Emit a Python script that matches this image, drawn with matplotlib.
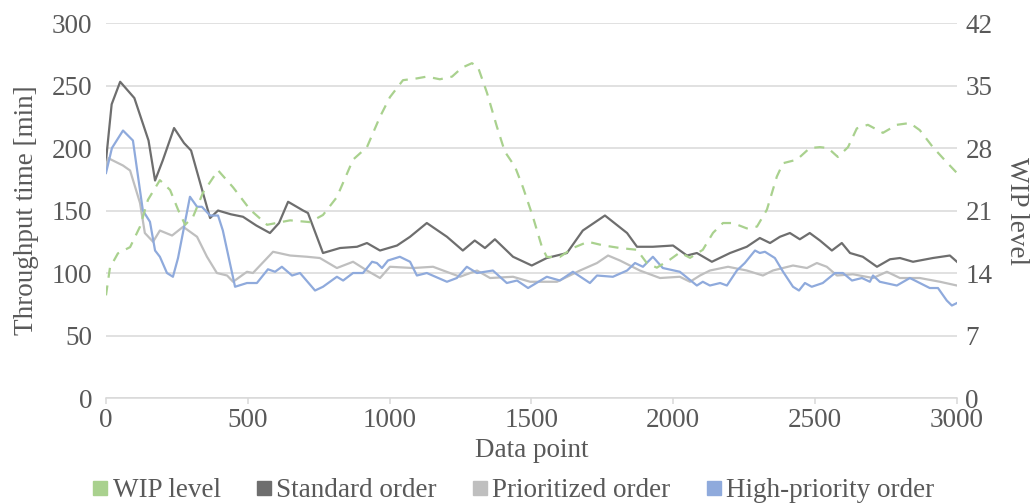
import matplotlib
matplotlib.use("Agg")
import matplotlib.pyplot as plt
from matplotlib.lines import Line2D

plt.rcParams['font.family'] = ['Liberation Serif', 'DejaVu Serif']

# Standard order throughput time [min]
std_x = [0, 20, 50, 100, 150, 173, 200, 240, 275, 300, 342, 367, 395, 440, 483, 530, 578,
         610, 642, 695, 712, 765, 825, 885, 920, 966, 1026, 1072, 1131, 1202, 1258, 1300,
         1336, 1371, 1435, 1501, 1554, 1625, 1681, 1759, 1837, 1872, 1928, 1999, 2048,
         2083, 2136, 2200, 2259, 2305, 2341, 2376, 2411, 2446, 2481, 2517, 2559, 2594,
         2623, 2668, 2718, 2764, 2799, 2845, 2915, 2975, 3000]
std_y = [190, 235, 253, 240, 206, 174, 190, 216, 204, 198, 164, 144, 150, 147, 145, 138, 132,
         140, 157, 150, 148, 116, 120, 121, 124, 118, 122, 129, 140, 129, 118, 126,
         120, 127, 113, 106, 112, 116, 134, 146, 132, 121, 121, 122, 114,
         116, 109, 116, 121, 128, 124, 129, 132, 127, 132, 126, 118, 124,
         116, 113, 105, 111, 112, 109, 112, 114, 109]

# Prioritized order throughput time [min]
pri_x = [0, 7, 60, 85, 120, 137, 166, 190, 233, 272, 321, 356, 391, 427, 448, 497, 518, 589,
         649, 709, 754, 814, 871, 920, 966, 1001, 1082, 1153, 1248, 1308, 1354, 1435, 1495,
         1590, 1671, 1731, 1770, 1812, 1882, 1953, 2023, 2059, 2094, 2129, 2193, 2259, 2316,
         2351, 2422, 2471, 2506, 2541, 2577, 2633, 2704, 2753, 2799, 2869, 2940, 3000]
pri_y = [184, 192, 186, 182, 156, 132, 125, 134, 130, 137, 129, 113, 100, 98, 93, 101, 100, 117,
         114, 113, 112, 104, 109, 102, 96, 105, 104, 105, 97, 102, 96, 97, 93,
         93, 102, 108, 114, 110, 102, 96, 97, 93, 98, 102, 105, 102, 98,
         102, 106, 104, 108, 105, 98, 99, 96, 101, 96, 96, 93, 90]

# High-priority order throughput time [min]
hp_x = [0, 21, 60, 95, 130, 155, 173, 190, 215, 236, 254, 296, 321, 338, 367, 395, 412, 455,
        497, 532, 571, 596, 620, 656, 684, 737, 765, 814, 836, 871, 906, 938, 955, 973, 994,
        1036, 1072, 1096, 1131, 1202, 1237, 1272, 1308, 1364, 1413, 1449, 1488, 1554, 1600,
        1646, 1706, 1731, 1787, 1837, 1865, 1893, 1928, 1963, 2023, 2083, 2104, 2129, 2165,
        2189, 2224, 2252, 2288, 2305, 2323, 2358, 2387, 2422, 2443, 2464, 2488, 2527, 2570,
        2598, 2630, 2665, 2693, 2704, 2728, 2788, 2834, 2869, 2904, 2933, 2964, 2982, 3000]
hp_y = [180, 200, 214, 206, 150, 141, 118, 113, 100, 97, 112, 161, 153, 153, 146, 146, 134, 89,
        92, 92, 103, 101, 105, 98, 100, 86, 89, 97, 94, 100, 100, 109, 108, 104, 110,
        113, 109, 98, 100, 93, 96, 105, 100, 102, 92, 94, 88, 97, 94,
        101, 92, 98, 97, 102, 108, 105, 113, 104, 101, 90, 93, 90, 92,
        90, 102, 108, 118, 116, 117, 112, 101, 89, 86, 92, 89, 92, 100,
        100, 94, 96, 93, 98, 93, 90, 96, 92, 88, 88, 78, 74, 76]

# WIP level (secondary axis)
wip_x = [0, 14, 42, 85, 120, 148, 190, 226, 254, 279, 307, 342, 395, 448, 508, 568, 649, 719,
         765, 814, 871, 920, 966, 1001, 1047, 1096, 1131, 1177, 1220, 1255, 1290, 1311, 1343,
         1378, 1406, 1442, 1470, 1505, 1537, 1554, 1600, 1646, 1699, 1752, 1812, 1872, 1907,
         1942, 1988, 2023, 2059, 2104, 2140, 2175, 2210, 2259, 2295, 2330, 2365, 2387, 2436,
         2481, 2517, 2545, 2580, 2616, 2647, 2686, 2739, 2788, 2834, 2869, 2915, 2964, 3000]
wip_y = [11.5, 14.6, 16.2, 16.9, 19.2, 22.2, 24.4, 23.3, 21.1, 19.4, 20.3, 23.0, 25.5, 23.6,
         21.1, 19.4, 19.9, 19.7, 20.5, 22.5, 26.7, 28.1, 31.5, 33.7, 35.6, 35.8, 36.0, 35.7,
         36.0, 37.0, 37.5, 37.1, 34.2, 30.4, 27.6, 25.9, 23.6, 20.3, 16.9, 15.8, 15.8, 16.8,
         17.5, 17.1, 16.8, 16.6, 15.1, 14.6, 15.5, 16.3, 15.7, 16.6, 18.5, 19.6, 19.6, 19.0,
         19.2, 21.1, 24.8, 26.3, 26.7, 28.0, 28.1, 28.0, 27.0, 28.1, 30.2, 30.6, 29.7, 30.6,
         30.8, 30.0, 28.1, 26.4, 25.2]

labels = ["WIP level", "Standard order", "Prioritized order", "High-priority order"]
c_wip, c_std, c_pri, c_hp = "#A9D18E", "#6E6E6E", "#BFBFBF", "#8FAADC"
txt = "#595959"
grid = "#D9D9D9"
fs = 19.5

fig = plt.figure(figsize=(10.34, 5.04), dpi=100)
ax = fig.add_axes([0.1025, 0.2103, 0.823, 0.7440])
ax2 = ax.twinx()

ax.plot(std_x, std_y, color=c_std, lw=1.6, zorder=3)
ax.plot(pri_x, pri_y, color=c_pri, lw=1.6, zorder=3)
ax.plot(hp_x, hp_y, color=c_hp, lw=1.6, zorder=4)
ax2.plot(wip_x, wip_y, color=c_wip, lw=1.6, ls=(0, (4.5, 3.5)))

ax.set_xlim(0, 3000)
ax.set_ylim(0, 300)
ax2.set_ylim(0, 42)
ax.set_yticks(range(0, 301, 50))
ax2.set_yticks(range(0, 43, 7))
ax.set_xticks(range(0, 3001, 500))

ax.grid(axis='y', color=grid, lw=1.1)
ax.set_axisbelow(True)
for a in (ax, ax2):
    for s in ("top", "left", "right"):
        a.spines[s].set_visible(False)
    a.spines["bottom"].set_color(grid)
    a.spines["bottom"].set_linewidth(1.1)
ax2.spines["bottom"].set_visible(False)

ax.tick_params(axis='y', length=0, pad=10, labelsize=fs, labelcolor=txt)
ax2.tick_params(axis='y', length=0, pad=6, labelsize=fs, labelcolor=txt)
ax.tick_params(axis='x', length=4, width=1.1, color=grid, pad=3, labelsize=fs, labelcolor=txt)

ax.set_xlabel("Data point", fontsize=fs, color=txt, labelpad=4)
ax.set_ylabel("Throughput time [min]", fontsize=fs, color=txt, labelpad=9)
ax2.set_ylabel("WIP level", fontsize=fs, color=txt, rotation=270, labelpad=26)

handles = [Line2D([], [], ls='none', marker='s', markersize=10, color=c)
           for c in (c_wip, c_std, c_pri, c_hp)]
fig.legend(handles, labels, loc='center', bbox_to_anchor=(0.495, 0.026), ncol=4,
           frameon=False, fontsize=fs, handletextpad=0.05, columnspacing=1.2,
           labelcolor=txt, handlelength=0.8)

fig.savefig("out.png", dpi=100)
